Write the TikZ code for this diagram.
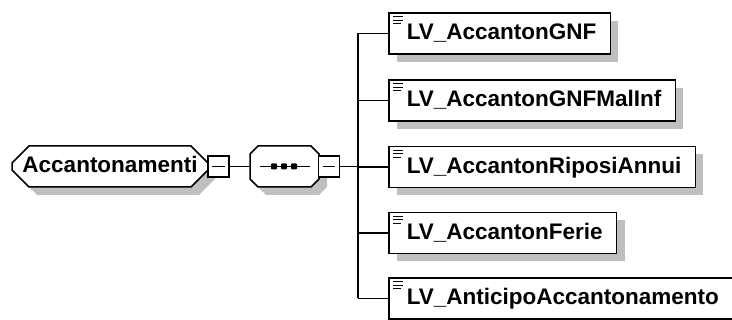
\documentclass[tikz,border=0pt]{standalone}
\usepackage{fontspec}
\setmainfont{Liberation Sans}
\usetikzlibrary{shapes.misc,shadows}

\tikzset{
  elem/.style={draw,line width=1.5pt,fill=white,
    font=\bfseries\fontsize{22.5}{26}\selectfont,text height=16.5pt,text depth=3.5pt,
    drop shadow={shadow xshift=8pt,shadow yshift=-8pt,fill=black!25,opacity=1}},
  leaf/.style={elem,rectangle,minimum height=41pt,inner xsep=14pt,anchor=west,
    execute at begin node=\hspace*{4pt},
    path picture={\draw[line width=1pt]
      ([shift={(4pt,-4pt)}]path picture bounding box.north west) -- ++(10pt,0pt)
      ([shift={(4pt,-7.5pt)}]path picture bounding box.north west) -- ++(10pt,0pt)
      ([shift={(4pt,-11pt)}]path picture bounding box.north west) -- ++(8pt,0pt);}},
  octa/.style={elem,chamfered rectangle,chamfered rectangle xsep=8pt,
    chamfered rectangle ysep=9pt,minimum height=41pt,inner sep=0pt},
  pm/.style={draw,line width=1.5pt,fill=white,minimum size=21pt,inner sep=0pt},
  wire/.style={line width=1.4pt}
}

\begin{document}
\begin{tikzpicture}[x=1pt,y=-1pt]
\useasboundingbox (0,0) rectangle (732,320);
% left part: element and sequence
\node[octa,minimum width=196pt] (acc) at (110,166.5) {Accantonamenti};
\node[pm] (accpm) at (218.5,166.3) {};
\node[octa,minimum width=69pt] (seq) at (284.5,166.5) {};
\node[pm] (seqpm) at (329,166.3) {};
\draw[wire] ([xshift=5pt]accpm.west) -- ([xshift=-5pt]accpm.east);
\draw[wire] ([xshift=5pt]seqpm.west) -- ([xshift=-5pt]seqpm.east);
\draw[wire] (260,166.5) -- (310,166.5);
\foreach \x in {274,284,294}
  \fill[rounded corners=1pt] (\x-3,163.5) rectangle (\x+3,169.5);
% children
\node[leaf] (gnf) at (388,33.5) {LV\_AccantonGNF};
\node[leaf] (mal) at (388,100.5) {LV\_AccantonGNFMalInf};
\node[leaf] (rip) at (388,167) {LV\_AccantonRiposiAnnui};
\node[leaf] (fer) at (388,233) {LV\_AccantonFerie};
\node[leaf] (ant) at (388,298.5) {LV\_AnticipoAccantonamento};
\coordinate (top) at (358,33.5);
\coordinate (bot) at (358,298.5);
\coordinate (mid) at (358,166.3);
% connectors
\draw[wire] (accpm) -- (seq.west |- accpm);
\draw[wire] (seqpm) -- (mid);
\draw[wire] (top) -- (bot);
\draw[wire] (top) -- (gnf.west);
\draw[wire] (top |- mal) -- (mal.west);
\draw[wire] (top |- rip) -- (rip.west);
\draw[wire] (top |- fer) -- (fer.west);
\draw[wire] (bot) -- (ant.west);
\end{tikzpicture}
\end{document}
